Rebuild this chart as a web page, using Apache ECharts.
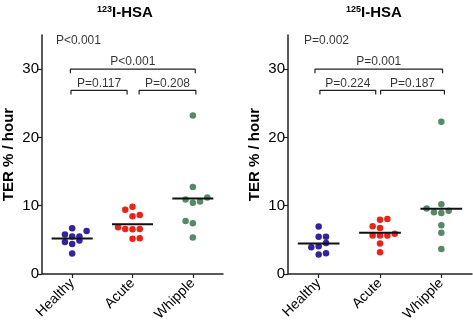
<!DOCTYPE html>
<html>
<head>
<meta charset="utf-8">
<script src="https://cdn.jsdelivr.net/npm/echarts@6/dist/echarts.min.js"></script>
<style>
  html, body { margin: 0; padding: 0; background: #fff; }
  #chart { width: 473px; height: 326px; }
</style>
</head>
<body>
<div id="chart"></div>
<script>
// categories and ticks
const categories = ["Healthy", "Acute", "Whipple"];
const yTicks = [0, 10, 20, 30];

// 123I-HSA values (jitter = horizontal dot slot, -2..2)
const healthy123 = [6.7, 6.3, 5.8, 5.5, 5.5, 4.7, 4.4, 4.9, 3.0];
const healthy123Jit = [0, 2, -1, 0, 1, -1, 0, 1, 0];
const acute123 = [9.4, 9.85, 8.45, 8.65, 6.85, 6.6, 6.55, 6.6, 5.15, 5.25];
const acute123Jit = [-1, 0, 0, 1, -2, -1, 0, 1, 0, 1];
const whipple123 = [23.2, 12.75, 10.9, 10.45, 10.6, 11.2, 7.75, 7.45, 5.35];
const whipple123Jit = [0, 0, -1, 0, 1, 2, -1, 0, 0];
const median123 = [5.2, 7.3, 11.05];
const pText123 = ["P<0.001", "P<0.001", "P=0.117", "P=0.208"]; // overall, H-W, H-A, A-W

// 125I-HSA values
const healthy125 = [6.95, 5.45, 5.45, 3.9, 4.05, 4.55, 2.85, 3.05];
const healthy125Jit = [0, 0, 1, -1, 0, 1, 0, 1];
const acute125 = [7.95, 8.05, 7.0, 6.75, 5.65, 5.65, 5.65, 5.9, 4.45, 3.2];
const acute125Jit = [0, 1, -1, 0, -1, 0, 1, 2, 0, 0];
const whipple125 = [22.3, 10.2, 9.6, 9.05, 8.95, 9.25, 7.15, 6.05, 3.65];
const whipple125Jit = [0, 0, -2, -1, 0, 1, 0, 0, 0];
const median125 = [4.45, 6.05, 9.55];
const pText125 = ["P=0.002", "P=0.001", "P=0.224", "P=0.187"];

const colors = ["#34239a", "#e8231a", "#578868"];
const font = "'Liberation Sans', Arial, Helvetica, sans-serif";

function dots(vals, jit, c) {
  return vals.map((v, i) => [c + jit[i] * 0.12, v]);
}

// bracket layout in axis units: [x1, x2, y]
const bracketsLeft = [[0.97, 3.04, 30], [0.98, 1.91, 26.9], [2.11, 3.05, 26.9]];
const bracketsRight = [[0.94, 3.02, 30], [1.02, 1.93, 26.9], [2.01, 3.05, 26.9]];

function panelSeries(idx, groups, medians, pTexts, brackets, pTopX) {
  const s = [];
  groups.forEach((g, k) => {
    s.push({
      type: "scatter", xAxisIndex: idx, yAxisIndex: idx,
      data: dots(g[0], g[1], k + 1),
      symbolSize: 6.5,
      itemStyle: { color: colors[k], opacity: 1 },
      z: 3
    });
    s.push({
      type: "line", xAxisIndex: idx, yAxisIndex: idx,
      data: [[k + 1 - 0.34, medians[k]], [k + 1 + 0.34, medians[k]]],
      symbol: "none",
      lineStyle: { color: "#111", width: 2 },
      z: 4
    });
  });
  brackets.forEach((b) => {
    s.push({
      type: "line", xAxisIndex: idx, yAxisIndex: idx,
      data: [[b[0], b[2] - 0.6], [b[0], b[2]], [b[1], b[2]], [b[1], b[2] - 0.6]],
      symbol: "none",
      lineStyle: { color: "#222", width: 1.2 }
    });
  });
  // p-value texts
  const labelData = brackets.map((b, i) => ({
    value: [(b[0] + b[1]) / 2, b[2]],
    name: pTexts[i + 1]
  }));
  s.push({
    type: "scatter", xAxisIndex: idx, yAxisIndex: idx,
    data: labelData,
    symbolSize: 0,
    label: {
      show: true, position: "top", distance: 1,
      formatter: (p) => p.name,
      color: "#000", fontSize: 12, fontFamily: font
    }
  });
  s.push({
    type: "scatter", xAxisIndex: idx, yAxisIndex: idx,
    data: [{ value: [pTopX, 34.1], name: pTexts[0] }],
    symbolSize: 0,
    label: {
      show: true, position: "right", distance: 0,
      formatter: (p) => p.name,
      color: "#000", fontSize: 12, fontFamily: font
    }
  });
  return s;
}

function xAxis(idx) {
  return {
    type: "value", gridIndex: idx, min: 0.5, max: 3.5,
    axisLine: { lineStyle: { color: "#222", width: 1.5 } },
    axisTick: { show: true, length: 4, customValues: [1, 2, 3], lineStyle: { color: "#222", width: 1.2 } },
    axisLabel: {
      customValues: [1, 2, 3],
      formatter: (v) => categories[Math.round(v) - 1] || "",
      rotate: 45, margin: 7,
      color: "#000", fontSize: 14, fontFamily: font
    },
    splitLine: { show: false }
  };
}

function yAxis(idx) {
  return {
    type: "value", gridIndex: idx, min: 0, max: 35,
    name: "TER % / hour",
    nameLocation: "middle", nameGap: 26,
    nameTextStyle: { color: "#000", fontSize: 15, fontWeight: "bold", fontFamily: font },
    axisLine: { show: true, lineStyle: { color: "#222", width: 1.5 } },
    axisTick: { show: true, length: 4, customValues: yTicks, lineStyle: { color: "#222", width: 1.2 } },
    axisLabel: { customValues: yTicks, margin: 3, color: "#000", fontSize: 15, fontFamily: font },
    splitLine: { show: false }
  };
}

function titleText(iso) {
  return {
    text: "{s|" + iso + "}{m|I-HSA}",
    textStyle: {
      rich: {
        s: { fontSize: 9, fontWeight: "bold", fontFamily: font, color: "#000", verticalAlign: "top", padding: [0, 0, 7, 0] },
        m: { fontSize: 15, fontWeight: "bold", fontFamily: font, color: "#000" }
      }
    }
  };
}

const chart = echarts.init(document.getElementById("chart"));
chart.setOption({
  animation: false,
  title: [
    Object.assign({ left: 120, top: 0, textAlign: "center" }, titleText("123")),
    Object.assign({ left: 369, top: 0, textAlign: "center" }, titleText("125"))
  ],
  grid: [
    { left: 39, right: 250, top: 35, bottom: 52 },
    { left: 288, right: 1, top: 35, bottom: 52 }
  ],
  xAxis: [xAxis(0), xAxis(1)],
  yAxis: [yAxis(0), yAxis(1)],
  series: [].concat(
    panelSeries(0,
      [[healthy123, healthy123Jit], [acute123, acute123Jit], [whipple123, whipple123Jit]],
      median123, pText123, bracketsLeft, 0.73),
    panelSeries(1,
      [[healthy125, healthy125Jit], [acute125, acute125Jit], [whipple125, whipple125Jit]],
      median125, pText125, bracketsRight, 0.76)
  )
});
</script>
</body>
</html>
